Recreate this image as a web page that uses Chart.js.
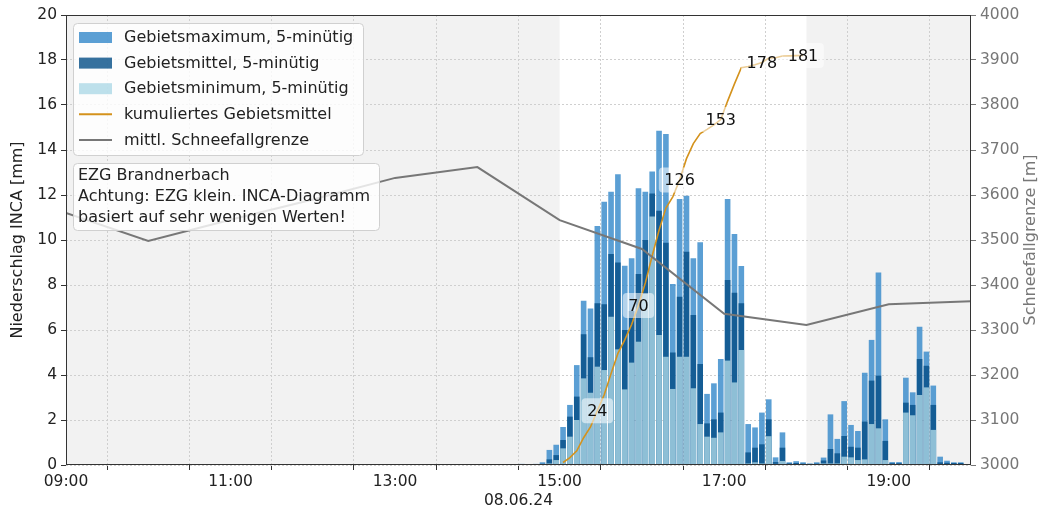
<!DOCTYPE html>
<html>
<head>
<meta charset="utf-8">
<script src="https://cdn.jsdelivr.net/npm/chart.js@4.4.1/dist/chart.umd.min.js"></script>
<style>
    html, body { margin: 0; padding: 0; background: #fff; }
</style>
</head>
<body>
<canvas id="myChart" width="1045" height="516"></canvas>
<script>
// 5-minute intervals (start time), 08.06.24
const intervals = [
    '14:30', '14:35', '14:40', '14:45', '14:50', '14:55',
    '15:00', '15:05', '15:10', '15:15', '15:20', '15:25',
    '15:30', '15:35', '15:40', '15:45', '15:50', '15:55',
    '16:00', '16:05', '16:10', '16:15', '16:20', '16:25',
    '16:30', '16:35', '16:40', '16:45', '16:50', '16:55',
    '17:00', '17:05', '17:10', '17:15', '17:20', '17:25',
    '17:30', '17:35', '17:40', '17:45', '17:50', '17:55',
    '18:00', '18:05', '18:10', '18:15', '18:20', '18:25',
    '18:30', '18:35', '18:40', '18:45', '18:50', '18:55',
    '19:00', '19:05', '19:10', '19:15', '19:20', '19:25',
    '19:30', '19:35', '19:40', '19:45', '19:50'
];

// precipitation per interval [mm]
const areaMax = [
    0.05, 0, 0.05, 0.12, 0.67, 0.90,
    1.69, 2.67, 4.44, 7.30, 6.96, 10.62,
    11.70, 12.15, 12.92, 8.86, 9.19, 12.30,
    12.15, 13.04, 14.86, 14.71, 8.04, 11.82,
    11.97, 9.19, 9.90, 3.16, 3.63, 4.71,
    11.82, 10.27, 8.84, 1.82, 1.67, 2.33,
    2.92, 0.34, 1.45, 0.12, 0.17, 0.12,
    0.07, 0.12, 0.33, 2.25, 1.16, 2.84,
    1.78, 1.51, 4.10, 5.56, 8.56, 2.03,
    0.13, 0.13, 3.88, 3.23, 6.15, 5.04,
    3.53, 0.37, 0.19, 0.12, 0.12
];
const areaMean = [
    0.02, 0, 0.02, 0.05, 0.25, 0.44,
    1.11, 2.15, 3.04, 5.81, 4.79, 7.19,
    7.14, 9.38, 9.00, 6.00, 6.84, 8.49,
    10.00, 12.07, 11.30, 9.88, 5.00, 7.48,
    9.48, 6.67, 4.49, 1.85, 2.03, 2.33,
    8.22, 7.66, 7.19, 0.56, 0.77, 0.92,
    2.03, 0.13, 0.77, 0.07, 0.09, 0.06,
    0.04, 0.06, 0.20, 0.71, 0.52, 1.29,
    0.81, 0.77, 1.93, 3.75, 3.97, 1.07,
    0.08, 0.08, 2.77, 2.67, 4.71, 4.41,
    2.67, 0.12, 0.10, 0.09, 0.09
];
const areaMin = [
    0, 0, 0, 0.01, 0.07, 0.22,
    0.74, 1.26, 2.00, 3.85, 3.21, 4.37,
    4.22, 6.59, 5.14, 3.36, 4.55, 5.48,
    7.60, 11.04, 5.78, 4.81, 3.38, 4.81,
    4.81, 3.41, 1.82, 1.26, 1.21, 1.45,
    4.64, 3.67, 5.11, 0.07, 0.12, 0.07,
    1.28, 0.05, 0.18, 0.02, 0.02, 0.02,
    0.01, 0.02, 0.07, 0.07, 0.07, 0.37,
    0.34, 0.22, 0.25, 1.82, 1.63, 0.22,
    0.02, 0.02, 2.33, 2.21, 3.11, 3.45,
    1.56, 0.04, 0.03, 0.03, 0.03
];

// cumulative area mean [mm], intervals from 15:00 to 17:55
const cumStart = '15:00';
const cumMean = [
    1.11, 3.26, 6.30, 12.11, 16.90, 24.09,
    31.23, 40.61, 49.61, 55.61, 62.45, 70.94,
    80.94, 93.01, 104.31, 114.19, 119.19, 126.67,
    136.15, 142.82, 147.31, 149.16, 151.19, 153.52,
    161.74, 169.40, 176.59, 177.15, 177.92, 178.84,
    180.87, 181.00, 181.77, 181.84, 181.93, 181.99
];

// mean snowfall line [m]
const snowHours = ['09:00', '10:00', '11:00', '12:00', '13:00', '14:00',
                   '15:00', '16:00', '17:00', '18:00', '19:00', '20:00'];
const snowLine = [3560, 3498, 3545, 3590, 3638, 3662,
                  3544, 3480, 3336, 3311, 3357, 3364];

const dateLabel = '08.06.24';
const leftTitle = 'Niederschlag INCA [mm]';
const rightTitle = 'Schneefallgrenze [m]';
const infoText = ['EZG Brandnerbach',
                  'Achtung: EZG klein. INCA-Diagramm',
                  'basiert auf sehr wenigen Werten!'];

// helpers
const toHours = t => {
    const [h, m] = t.split(':').map(Number);
    return h + m / 60;
};
const barPos = t => toHours(t) + 2.5 / 60; // bars sit in the middle of the interval
const cumOffset = intervals.indexOf(cumStart);

const FONT = 'DejaVu Sans';
Chart.defaults.font.family = FONT;
Chart.defaults.font.size = 15.5;
Chart.defaults.color = '#222';

const colMax = 'rgba(50, 135, 201, 0.8)';
const colMean = 'rgba(4, 78, 134, 0.8)';
const colMin = 'rgba(173, 216, 230, 0.8)';
const colCum = '#d4921c';
const colSnow = '#777777';

// shaded time ranges (outside the main window)
const shadePlugin = {
    id: 'shade',
    beforeDraw(chart) {
        const { ctx, chartArea: a, scales: { x } } = chart;
        ctx.save();
        ctx.fillStyle = '#f2f2f2';
        [[9, 15], [18, 20]].forEach(([s, e]) => {
            const x0 = x.getPixelForValue(s), x1 = x.getPixelForValue(e);
            ctx.fillRect(x0, a.top, x1 - x0, a.bottom - a.top);
        });
        ctx.restore();
    }
};

// labels on the cumulative line
const cumLabelPlugin = {
    id: 'cumLabels',
    afterDatasetsDraw(chart) {
        const { ctx, scales: { x, yc } } = chart;
        ctx.save();
        ctx.font = '16px ' + FONT;
        ctx.textAlign = 'center';
        ctx.textBaseline = 'middle';
        cumMean.forEach((v, i) => {
            if ((i + 1) % 6 !== 0) return;
            const px = x.getPixelForValue(barPos(intervals[cumOffset + i]));
            const py = yc.getPixelForValue(v);
            const txt = String(Math.floor(v));
            const w = ctx.measureText(txt).width + 11;
            ctx.fillStyle = 'rgba(255, 255, 255, 0.55)';
            ctx.beginPath();
            ctx.roundRect(px - w / 2, py - 12.5, w, 25, 4);
            ctx.fill();
            ctx.fillStyle = '#111';
            ctx.fillText(txt, px, py + 1);
        });
        ctx.restore();
    }
};

// frame, axis titles, legend and info box
const overlayPlugin = {
    id: 'overlay',
    afterDraw(chart) {
        const { ctx, chartArea: a } = chart;
        ctx.save();
        // frame
        ctx.strokeStyle = '#333';
        ctx.lineWidth = 1;
        ctx.strokeRect(a.left + 0.5, a.top + 0.5, a.right - a.left - 1, a.bottom - a.top - 1);

        // y titles, both reading bottom to top
        ctx.font = '16px ' + FONT;
        ctx.textAlign = 'center';
        ctx.textBaseline = 'middle';
        const midY = (a.top + a.bottom) / 2;
        [[18, leftTitle, '#222'], [1031, rightTitle, '#777']].forEach(([tx, t, c]) => {
            ctx.save();
            ctx.translate(tx, midY);
            ctx.rotate(-Math.PI / 2);
            ctx.fillStyle = c;
            ctx.fillText(t, 0, 0);
            ctx.restore();
        });

        // legend
        ctx.textAlign = 'left';
        ctx.fillStyle = 'rgba(255, 255, 255, 0.8)';
        ctx.strokeStyle = '#d0d0d0';
        ctx.beginPath();
        ctx.roundRect(73.5, 23.5, 290, 132, 4);
        ctx.fill();
        ctx.stroke();

        const items = [
            { label: 'Gebietsmaximum, 5-minütig', type: 'box', color: colMax },
            { label: 'Gebietsmittel, 5-minütig', type: 'box', color: colMean },
            { label: 'Gebietsminimum, 5-minütig', type: 'box', color: colMin },
            { label: 'kumuliertes Gebietsmittel', type: 'line', color: colCum },
            { label: 'mittl. Schneefallgrenze', type: 'line', color: colSnow }
        ];
        items.forEach((it, i) => {
            const cy = 37.5 + i * 25.6;
            if (it.type === 'box') {
                ctx.fillStyle = it.color;
                ctx.fillRect(79, cy - 5.5, 33, 11);
            } else {
                ctx.strokeStyle = it.color;
                ctx.lineWidth = 2;
                ctx.beginPath();
                ctx.moveTo(79, cy);
                ctx.lineTo(112, cy);
                ctx.stroke();
            }
            ctx.fillStyle = '#222';
            ctx.fillText(it.label, 124, cy + 0.5);
        });

        // info box
        ctx.fillStyle = 'rgba(255, 255, 255, 0.8)';
        ctx.strokeStyle = '#d0d0d0';
        ctx.lineWidth = 1;
        ctx.beginPath();
        ctx.roundRect(73.5, 163.5, 306, 67, 4);
        ctx.fill();
        ctx.stroke();
        ctx.fillStyle = '#222';
        infoText.forEach((t, i) => ctx.fillText(t, 78, 176 + i * 20.7));
        ctx.restore();
    }
};

const barDefaults = {
    type: 'bar',
    grouped: false,
    barPercentage: 0.82,
    categoryPercentage: 1.0,
    borderWidth: 0,
    yAxisID: 'y',
    xAxisID: 'x'
};

const ctx = document.getElementById('myChart').getContext('2d');

new Chart(ctx, {
    type: 'bar',
    data: {
        datasets: [
            {
                ...barDefaults,
                label: 'Gebietsmaximum, 5-minütig',
                data: intervals.map((t, i) => ({ x: barPos(t), y: areaMax[i] })),
                backgroundColor: colMax,
                order: 5
            },
            {
                ...barDefaults,
                label: 'Gebietsmittel, 5-minütig',
                data: intervals.map((t, i) => ({ x: barPos(t), y: areaMean[i] })),
                backgroundColor: colMean,
                order: 4
            },
            {
                ...barDefaults,
                label: 'Gebietsminimum, 5-minütig',
                data: intervals.map((t, i) => ({ x: barPos(t), y: areaMin[i] })),
                backgroundColor: colMin,
                order: 3
            },
            {
                type: 'line',
                label: 'kumuliertes Gebietsmittel',
                data: cumMean.map((v, i) => ({ x: barPos(intervals[cumOffset + i]), y: v })),
                borderColor: colCum,
                borderWidth: 1.6,
                pointRadius: 0,
                tension: 0,
                yAxisID: 'yc',
                order: 2
            },
            {
                type: 'line',
                label: 'mittl. Schneefallgrenze',
                data: snowHours.map((t, i) => ({ x: toHours(t), y: snowLine[i] })),
                borderColor: colSnow,
                borderWidth: 2,
                pointRadius: 0,
                tension: 0,
                yAxisID: 'y2',
                order: 1
            }
        ]
    },
    plugins: [shadePlugin, cumLabelPlugin, overlayPlugin],
    options: {
        responsive: false,
        animation: false,
        layout: { padding: { top: 15, left: 0, right: 0, bottom: 0 } },
        plugins: {
            legend: { display: false },
            tooltip: { enabled: false }
        },
        scales: {
            x: {
                type: 'linear',
                min: 9,
                max: 20,
                offset: false,
                afterFit: s => { s.height = 51; },
                ticks: {
                    stepSize: 1,
                    autoSkip: false,
                    maxRotation: 0,
                    padding: 3,
                    color: '#222',
                    callback: v => (v % 2 === 1 ? String(v).padStart(2, '0') + ':00' : '')
                },
                grid: {
                    color: '#cfcfcf',
                    tickColor: '#333',
                    tickLength: 5,
                    tickBorderDash: []
                },
                border: { display: false, dash: [2, 2] },
                title: {
                    display: true,
                    text: dateLabel,
                    color: '#222',
                    padding: { top: 0, bottom: 6 },
                    font: { size: 15.5 }
                }
            },
            y: {
                position: 'left',
                min: 0,
                max: 20,
                afterFit: s => { s.width = 66; },
                ticks: { stepSize: 2, padding: 4, color: '#222' },
                grid: {
                    color: '#cfcfcf',
                    tickColor: '#333',
                    tickLength: 5,
                    tickBorderDash: []
                },
                border: { display: false, dash: [2, 2] }
            },
            y2: {
                position: 'right',
                min: 3000,
                max: 4000,
                afterFit: s => { s.width = 74; },
                ticks: { stepSize: 100, padding: 4, color: '#777', callback: v => String(v) },
                grid: {
                    drawOnChartArea: false,
                    tickColor: '#777',
                    tickLength: 5
                },
                border: { display: false }
            },
            yc: {
                display: false,
                min: 0,
                max: 200
            }
        }
    }
});
</script>
</body>
</html>
